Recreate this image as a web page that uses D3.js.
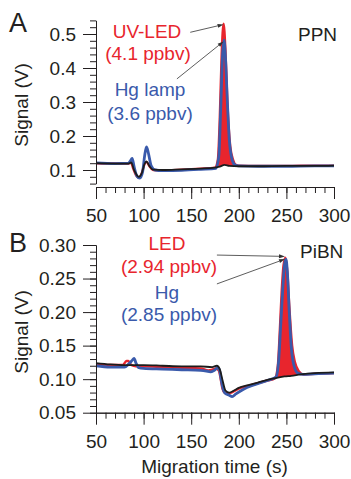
<!DOCTYPE html>
<html>
<head>
<meta charset="utf-8">
<script src="https://cdn.jsdelivr.net/npm/d3@7"></script>
<style>
  html, body { margin: 0; padding: 0; background: #fff; }
  svg text { font-family: "Liberation Sans", Arial, sans-serif; fill: #231f20; }
</style>
</head>
<body>
<svg id="chart" width="351" height="479"></svg>
<script>
// migration time (s) and signal (V)
// panel A: PPN
const timeA_led = [50, 70, 84, 87, 89, 92, 95, 98, 101, 103, 106, 110, 120, 140, 160, 175, 178, 180, 182, 184, 186, 188, 191, 194, 197, 200, 220, 250, 280, 300];
const sigA_led  = [0.120, 0.119, 0.119, 0.121, 0.105, 0.085, 0.077, 0.090, 0.118, 0.124, 0.112, 0.100, 0.099, 0.101, 0.104, 0.107, 0.130, 0.250, 0.440, 0.530, 0.450, 0.300, 0.170, 0.130, 0.115, 0.113, 0.112, 0.112, 0.113, 0.113];

const timeA_hg = [50, 70, 84, 86, 88, 90, 93, 96, 99, 101, 103, 105, 108, 112, 120, 140, 160, 176, 179, 181, 183, 184.5, 186, 188, 190, 193, 196, 200, 220, 250, 280, 300];
const sigA_hg  = [0.121, 0.119, 0.120, 0.126, 0.134, 0.110, 0.082, 0.076, 0.095, 0.140, 0.168, 0.150, 0.112, 0.100, 0.098, 0.099, 0.102, 0.105, 0.140, 0.280, 0.440, 0.482, 0.430, 0.300, 0.190, 0.130, 0.115, 0.112, 0.111, 0.111, 0.112, 0.112];

const timeA_blank = [50, 70, 84, 87, 90, 95, 98, 101, 103, 106, 110, 120, 140, 160, 175, 180, 185, 190, 200, 220, 250, 280, 300];
const sigA_blank  = [0.120, 0.119, 0.119, 0.122, 0.100, 0.080, 0.090, 0.118, 0.125, 0.112, 0.101, 0.100, 0.102, 0.104, 0.107, 0.110, 0.115, 0.112, 0.111, 0.111, 0.112, 0.112, 0.113];

// panel B: PiBN
const timeB_led = [50, 65, 78, 82, 84, 87, 92, 100, 120, 140, 160, 168, 172, 176, 179, 181, 183, 186, 190, 195, 200, 210, 220, 230, 238, 241, 243, 245, 247, 249, 251, 253, 256, 259, 263, 268, 280, 300];
const sigB_led  = [0.122, 0.121, 0.121, 0.127, 0.127, 0.121, 0.119, 0.119, 0.118, 0.117, 0.116, 0.113, 0.114, 0.116, 0.113, 0.100, 0.085, 0.079, 0.079, 0.082, 0.086, 0.090, 0.094, 0.098, 0.101, 0.120, 0.170, 0.230, 0.270, 0.281, 0.260, 0.210, 0.150, 0.125, 0.112, 0.107, 0.108, 0.109];

const timeB_hg = [50, 65, 80, 84, 88, 90, 92, 95, 100, 120, 140, 160, 166, 170, 174, 178, 180, 182, 185, 190, 193, 197, 205, 215, 230, 239, 242, 244, 246, 248, 249.5, 251, 253, 255, 258, 262, 268, 280, 300];
const sigB_hg  = [0.120, 0.118, 0.118, 0.122, 0.128, 0.131, 0.124, 0.117, 0.116, 0.115, 0.114, 0.113, 0.112, 0.111, 0.113, 0.117, 0.112, 0.095, 0.080, 0.076, 0.074, 0.078, 0.085, 0.091, 0.098, 0.103, 0.130, 0.180, 0.230, 0.270, 0.279, 0.260, 0.200, 0.150, 0.120, 0.109, 0.107, 0.108, 0.109];

const timeB_blank = [50, 65, 80, 100, 120, 140, 160, 172, 177, 180, 183, 186, 190, 195, 200, 210, 220, 230, 240, 248, 255, 265, 280, 300];
const sigB_blank  = [0.124, 0.122, 0.121, 0.121, 0.120, 0.119, 0.119, 0.118, 0.120, 0.115, 0.098, 0.083, 0.080, 0.083, 0.087, 0.091, 0.095, 0.099, 0.102, 0.104, 0.105, 0.107, 0.109, 0.110];

// axis ticks
const xMajor = [50, 100, 150, 200, 250, 300];
const xMinor = d3.range(50, 301, 10);
const yMajorA = [0.1, 0.2, 0.3, 0.4, 0.5];
const yMinorA = d3.range(0.06, 0.5401, 0.02);
const yMajorB = [0.05, 0.10, 0.15, 0.20, 0.25, 0.30];
const yMinorB = d3.range(0.05, 0.3001, 0.01);

const RED = '#e8252d';
const BLUE = '#3a5aab';
const BLACK = '#1c1c1c';
const INK = '#231f20';

const svg = d3.select('#chart');

const toPts = (t, v) => t.map((d, i) => ({ t: d, v: v[i] }));

// linear read of one trace at time t, used as the floor of the red peak fill
function readAt(pts, t) {
  const i = d3.bisector(d => d.t).left(pts, t);
  if (i <= 0) return pts[0].v;
  if (i >= pts.length) return pts[pts.length - 1].v;
  const a = pts[i - 1], b = pts[i];
  return a.v + (b.v - a.v) * (t - a.t) / (b.t - a.t);
}

function drawPanel(cfg) {
  const x = d3.scaleLinear().domain([50, 300]).range([96, 334]);
  const y = d3.scaleLinear().domain(cfg.yDomain).range(cfg.yRange);
  const g = svg.append('g');

  const led = toPts(cfg.led[0], cfg.led[1]);
  const hg = toPts(cfg.hg[0], cfg.hg[1]);
  const blank = toPts(cfg.blank[0], cfg.blank[1]);

  // red filled peak between LED trace and blank trace
  const peak = led.filter(d => d.t >= cfg.fill[0] && d.t <= cfg.fill[1]);
  g.append('path')
    .datum(peak)
    .attr('fill', RED)
    .attr('d', d3.area()
      .curve(d3.curveMonotoneX)
      .x(d => x(d.t))
      .y0(d => y(readAt(blank, d.t)))
      .y1(d => y(d.v)));

  const line = d3.line().curve(d3.curveMonotoneX).x(d => x(d.t)).y(d => y(d.v));

  g.append('path').datum(led).attr('fill', 'none').attr('stroke', RED)
    .attr('stroke-width', 2.4).attr('d', line);
  g.append('path').datum(hg).attr('fill', 'none').attr('stroke', BLUE)
    .attr('stroke-width', 2.8).attr('d', line);
  g.append('path').datum(blank).attr('fill', 'none').attr('stroke', BLACK)
    .attr('stroke-width', 1.8).attr('d', line);

  // y axis, minor then major
  g.append('g').attr('transform', 'translate(96,0)')
    .call(d3.axisLeft(y).tickValues(cfg.yMinor).tickSize(6).tickSizeOuter(0).tickFormat(''));
  g.append('g').attr('transform', 'translate(96,0)')
    .call(d3.axisLeft(y).tickValues(cfg.yMajor).tickSize(13).tickSizeOuter(0)
      .tickPadding(7).tickFormat(d3.format(cfg.yFmt)));

  // x axis
  g.append('g').attr('transform', `translate(0,${cfg.xAxisY})`)
    .call(d3.axisBottom(x).tickValues(xMinor).tickSize(6).tickSizeOuter(0).tickFormat(''));
  g.append('g').attr('transform', `translate(0,${cfg.xAxisY})`)
    .call(d3.axisBottom(x).tickValues(xMajor).tickSize(12).tickSizeOuter(0).tickPadding(9.5));

  g.selectAll('.domain, .tick line').attr('stroke', INK).attr('stroke-width', 1);
  g.selectAll('.tick text').attr('font-size', 19).attr('fill', INK)
    .style('font-family', '"Liberation Sans", Arial, sans-serif');

  // y title
  g.append('text')
    .attr('transform', `translate(28,${cfg.yTitleY}) rotate(-90)`)
    .attr('text-anchor', 'middle').attr('font-size', 19)
    .text('Signal (V)');

  // panel letter and compound name
  g.append('text').attr('x', 9).attr('y', cfg.letterY).attr('font-size', 27).text(cfg.letter);
  g.append('text').attr('x', cfg.nameX).attr('y', cfg.nameY).attr('font-size', 19).text(cfg.name);

  // annotations
  cfg.notes.forEach(n => {
    g.append('text').attr('x', n.x).attr('y', n.y).attr('text-anchor', 'middle')
      .attr('font-size', 19).style('fill', n.c).text(n.s);
  });

  // arrows from the labels to the peak tops
  cfg.arrows.forEach(a => {
    const x1 = x(a.from[0]), y1 = y(a.from[1]);
    const x2 = x(a.to[0]), y2 = y(a.to[1]);
    const ang = Math.atan2(y2 - y1, x2 - x1);
    const L = 6, W = 2;
    const bx = x2 - L * Math.cos(ang), by = y2 - L * Math.sin(ang);
    g.append('line').attr('x1', x1).attr('y1', y1).attr('x2', bx).attr('y2', by)
      .attr('stroke', '#333').attr('stroke-width', 0.8);
    g.append('path')
      .attr('d', `M${x2},${y2}L${bx - W * Math.sin(ang)},${by + W * Math.cos(ang)}L${bx + W * Math.sin(ang)},${by - W * Math.cos(ang)}Z`)
      .attr('fill', '#333');
  });
}

drawPanel({
  led: [timeA_led, sigA_led], hg: [timeA_hg, sigA_hg], blank: [timeA_blank, sigA_blank],
  fill: [176, 200],
  yDomain: [0.06, 0.54], yRange: [183.6, 20.4],
  yMajor: yMajorA, yMinor: yMinorA, yFmt: '.1f',
  xAxisY: 187, yTitleY: 105,
  letter: 'A', letterY: 32, name: 'PPN', nameX: 298, nameY: 41,
  notes: [
    { s: 'UV-LED', x: 147, y: 38, c: RED },
    { s: '(4.1 ppbv)', x: 148, y: 60, c: RED },
    { s: 'Hg lamp', x: 150, y: 96, c: BLUE },
    { s: '(3.6 ppbv)', x: 150, y: 120, c: BLUE }
  ],
  arrows: [
    { from: [149, 0.505], to: [184, 0.528] },
    { from: [135, 0.368], to: [184, 0.478] }
  ]
});

drawPanel({
  led: [timeB_led, sigB_led], hg: [timeB_hg, sigB_hg], blank: [timeB_blank, sigB_blank],
  fill: [238, 268],
  yDomain: [0.05, 0.30], yRange: [412.7, 245],
  yMajor: yMajorB, yMinor: yMinorB, yFmt: '.2f',
  xAxisY: 412.7, yTitleY: 332,
  letter: 'B', letterY: 252, name: 'PiBN', nameX: 300, nameY: 258,
  notes: [
    { s: 'LED', x: 167, y: 250, c: RED },
    { s: '(2.94 ppbv)', x: 169, y: 273, c: RED },
    { s: 'Hg', x: 167, y: 299, c: BLUE },
    { s: '(2.85 ppbv)', x: 169, y: 321, c: BLUE }
  ],
  arrows: [
    { from: [177, 0.285], to: [248.5, 0.283] },
    { from: [177, 0.242], to: [248.5, 0.279] }
  ]
});

// shared x title
svg.append('text').attr('x', 214.5).attr('y', 473).attr('text-anchor', 'middle')
  .attr('font-size', 19).text('Migration time (s)');
</script>
</body>
</html>
